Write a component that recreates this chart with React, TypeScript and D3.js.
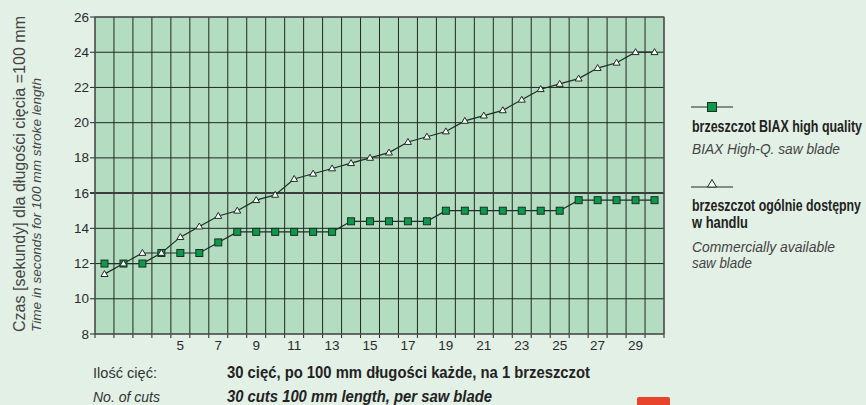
import React from 'react';
import * as d3 from 'd3';

// cut number (1..30)
const cuts = [1, 2, 3, 4, 5, 6, 7, 8, 9, 10, 11, 12, 13, 14, 15, 16, 17, 18, 19, 20, 21, 22, 23, 24, 25, 26, 27, 28, 29, 30];
// seconds per 100 mm cut
const biax = [12, 12, 12, 12.6, 12.6, 12.6, 13.2, 13.8, 13.8, 13.8, 13.8, 13.8, 13.8, 14.4, 14.4, 14.4, 14.4, 14.4, 15, 15, 15, 15, 15, 15, 15, 15.6, 15.6, 15.6, 15.6, 15.6];
const commercial = [11.4, 12.0, 12.6, 12.6, 13.5, 14.1, 14.7, 15.0, 15.6, 15.9, 16.8, 17.1, 17.4, 17.7, 18.0, 18.3, 18.9, 19.2, 19.5, 20.1, 20.4, 20.7, 21.3, 21.9, 22.2, 22.5, 23.1, 23.4, 24.0, 24.0];
const xTickLabels = [5, 7, 9, 11, 13, 15, 17, 19, 21, 23, 25, 27, 29];
const yTicks = [8, 10, 12, 14, 16, 18, 20, 22, 24, 26];

const W = 866, H = 405;
const plot = { left: 95, right: 664, top: 17, bottom: 334 };
const font = '"Liberation Sans", Arial, sans-serif';
const textCol = '#2b2b2b';

function tri(cx: number, cy: number, s: number) {
  const h = s * 0.85;
  return `M${cx},${cy - h * 0.6} L${cx + s / 2},${cy + h * 0.4} L${cx - s / 2},${cy + h * 0.4} Z`;
}

export default function App() {
  const x = d3.scaleBand<number>().domain(cuts).range([plot.left, plot.right]).padding(0);
  const y = d3.scaleLinear().domain([8, 26]).range([plot.bottom, plot.top]);
  const cx = (c: number) => (x(c) as number) + x.bandwidth() / 2;

  const line = d3.line<number>().x((_, i) => cx(cuts[i])).y((v) => y(v));
  const boundaries = cuts.map((c) => x(c) as number).concat([plot.right]);

  return (
    <div style={{ position: 'absolute', left: 0, top: 0 }}>
      <svg width={W} height={H} style={{ display: 'block' }}>
        <rect x={0} y={0} width={W} height={H} fill="#e2f0e6" />
        {/* partial red logo at bottom */}
        <rect x={637} y={397} width={33} height={10} rx={2} fill="#e8432b" />

        <rect x={plot.left} y={plot.top} width={plot.right - plot.left} height={plot.bottom - plot.top} fill="#b4dcc0" />

        {/* grid */}
        {boundaries.map((bx, i) => (
          <line key={'v' + i} x1={bx} x2={bx} y1={plot.top} y2={plot.bottom + 4} stroke="#1e2a22" strokeWidth={1} />
        ))}
        {yTicks.map((t) => (
          <line key={'h' + t} x1={plot.left - 5} x2={plot.right} y1={y(t)} y2={y(t)}
            stroke={t === 16 ? '#3a3f3b' : '#1e2a22'} strokeWidth={t === 16 ? 2 : 1} />
        ))}
        <rect x={plot.left} y={plot.top} width={plot.right - plot.left} height={plot.bottom - plot.top}
          fill="none" stroke="#555" strokeWidth={1.2} />

        {/* y tick labels */}
        {yTicks.map((t) => (
          <text key={'yl' + t} x={89} y={y(t) + 4.5} textAnchor="end" fontFamily={font} fontSize={13.5} fill={textCol}>{t}</text>
        ))}
        {/* x tick labels */}
        {xTickLabels.map((t) => (
          <text key={'xl' + t} x={cx(t)} y={350} textAnchor="middle" fontFamily={font} fontSize={13.5} fill={textCol}>{t}</text>
        ))}

        {/* series lines */}
        <path d={line(biax) || ''} fill="none" stroke="#1d2e24" strokeWidth={1.2} />
        <path d={line(commercial) || ''} fill="none" stroke="#1d2e24" strokeWidth={1.2} />
        {biax.map((v, i) => (
          <rect key={'b' + i} x={cx(cuts[i]) - 3.5} y={y(v) - 3.5} width={7} height={7} fill="#0b9a4c" stroke="#1d2e24" strokeWidth={1} />
        ))}
        {commercial.map((v, i) => (
          <path key={'c' + i} d={tri(cx(cuts[i]), y(v), 7)} fill="#fff" stroke="#1d2e24" strokeWidth={1} />
        ))}

        {/* y axis title */}
        <text transform="translate(25,332) rotate(-90)" fontFamily={font} fontSize={16} fontWeight={300} fill="#444"
          textLength={316} lengthAdjust="spacingAndGlyphs">Czas [sekundy] dla długości cięcia =100 mm</text>
        <text transform="translate(41,332) rotate(-90)" fontFamily={font} fontSize={13.5} fontStyle="italic" fill="#444"
          textLength={254} lengthAdjust="spacingAndGlyphs">Time in seconds for 100 mm stroke length</text>

        {/* legend */}
        <line x1={691} x2={733} y1={107} y2={107} stroke="#1d2e24" strokeWidth={1.2} />
        <rect x={707.5} y={102.5} width={9} height={9} fill="#0b9a4c" stroke="#1d2e24" strokeWidth={1} />
        <text x={692} y={132} fontFamily={font} fontSize={16.5} fontWeight="bold" fill="#222" textLength={170} lengthAdjust="spacingAndGlyphs">brzeszczot BIAX high quality</text>
        <text x={692} y={154} fontFamily={font} fontSize={14.5} fontStyle="italic" fill="#444" textLength={148} lengthAdjust="spacingAndGlyphs">BIAX High-Q. saw blade</text>

        <line x1={691} x2={733} y1={187} y2={187} stroke="#1d2e24" strokeWidth={1.2} />
        <path d={tri(712, 184, 9)} fill="#fff" stroke="#1d2e24" strokeWidth={1} />
        <text x={692} y={211} fontFamily={font} fontSize={16.5} fontWeight="bold" fill="#222" textLength={169} lengthAdjust="spacingAndGlyphs">brzeszczot ogólnie dostępny</text>
        <text x={692} y={228} fontFamily={font} fontSize={16.5} fontWeight="bold" fill="#222" textLength={56} lengthAdjust="spacingAndGlyphs">w handlu</text>
        <text x={692} y={252} fontFamily={font} fontSize={14.5} fontStyle="italic" fill="#444" textLength={143} lengthAdjust="spacingAndGlyphs">Commercially available</text>
        <text x={692} y={268} fontFamily={font} fontSize={14.5} fontStyle="italic" fill="#444" textLength={60} lengthAdjust="spacingAndGlyphs">saw blade</text>

        {/* bottom notes */}
        <text x={93} y={378} fontFamily={font} fontSize={14.5} fill="#333" textLength={64} lengthAdjust="spacingAndGlyphs">Ilość cięć:</text>
        <text x={93} y={402} fontFamily={font} fontSize={14.5} fontStyle="italic" fill="#333" textLength={67} lengthAdjust="spacingAndGlyphs">No. of cuts</text>
        <text x={227} y={378} fontFamily={font} fontSize={16} fontWeight="bold" fill="#222" textLength={363} lengthAdjust="spacingAndGlyphs">30 cięć, po 100 mm długości każde, na 1 brzeszczot</text>
        <text x={227} y={402} fontFamily={font} fontSize={16} fontWeight="bold" fontStyle="italic" fill="#222" textLength={265} lengthAdjust="spacingAndGlyphs">30 cuts 100 mm length, per saw blade</text>
      </svg>
    </div>
  );
}
